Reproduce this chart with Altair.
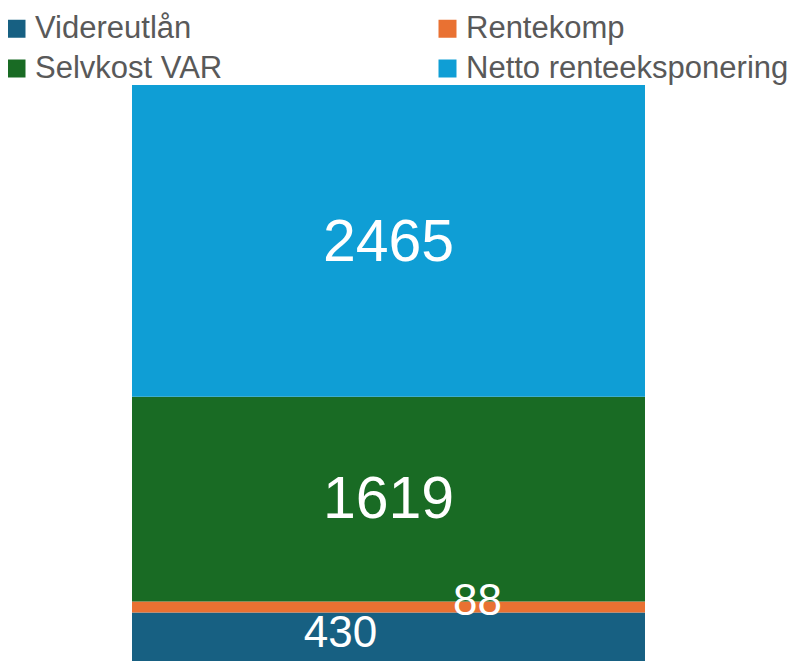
import altair as alt
import pandas as pd

categories = ["Videreutlån", "Rentekomp", "Selvkost VAR", "Netto renteeksponering"]
values = [430, 88, 1619, 2465]
colors = ["#176082", "#E97132", "#196B24", "#0F9ED5"]

df = pd.DataFrame({
    "bar": ["Total"] * len(categories),
    "serie": categories,
    "verdi": values,
    "rekkefolge": list(range(len(categories))),
})
cum = df["verdi"].cumsum()
df["midt"] = cum - df["verdi"] / 2

FONT = "Liberation Sans"

base = alt.Chart(df)

x_enc = alt.X("bar:N", axis=None, scale=alt.Scale(paddingInner=0, paddingOuter=0))
y_scale = alt.Scale(domain=[0, sum(values)], nice=False, zero=True)

bars = base.mark_bar(stroke=None).encode(
    x=x_enc,
    y=alt.Y("verdi:Q", stack="zero", axis=None, scale=y_scale),
    color=alt.Color(
        "serie:N",
        scale=alt.Scale(domain=categories, range=colors),
        sort=categories,
        legend=alt.Legend(
            title=None,
            orient="none",
            direction="horizontal",
            legendX=-131,
            legendY=-72,
            columns=2,
            columnPadding=209,
            rowPadding=8,
            symbolType="square",
            symbolSize=324,
            symbolStrokeWidth=0,
            labelFont=FONT,
            labelFontSize=31,
            labelColor="#595959",
            labelOffset=3,
            labelLimit=400,
            padding=0,
        ),
    ),
    order=alt.Order("rekkefolge:Q", sort="ascending"),
)

def label(cat, size, dx=0, dy=0):
    return base.transform_filter(alt.datum.serie == cat).mark_text(
        font=FONT, fontSize=size, color="white", baseline="middle", align="center",
        dx=dx, dy=dy,
    ).encode(
        x=x_enc,
        y=alt.Y("midt:Q", scale=y_scale, axis=None),
        text=alt.Text("verdi:Q"),
    )

chart = alt.layer(
    bars,
    label("Netto renteeksponering", 59, 0, 2),
    label("Selvkost VAR", 59, 0, 1),
    label("Rentekomp", 44, 89, -5),
    label("Videreutlån", 44, -48, -6),
).properties(
    width=513,
    height=582,
    autosize=alt.AutoSizeParams(type="none"),
    padding={"left": 124, "top": 77, "right": 143, "bottom": 0},
).configure_view(stroke=None)

chart.save("out.html", embed_options={"renderer": "svg", "actions": False})
